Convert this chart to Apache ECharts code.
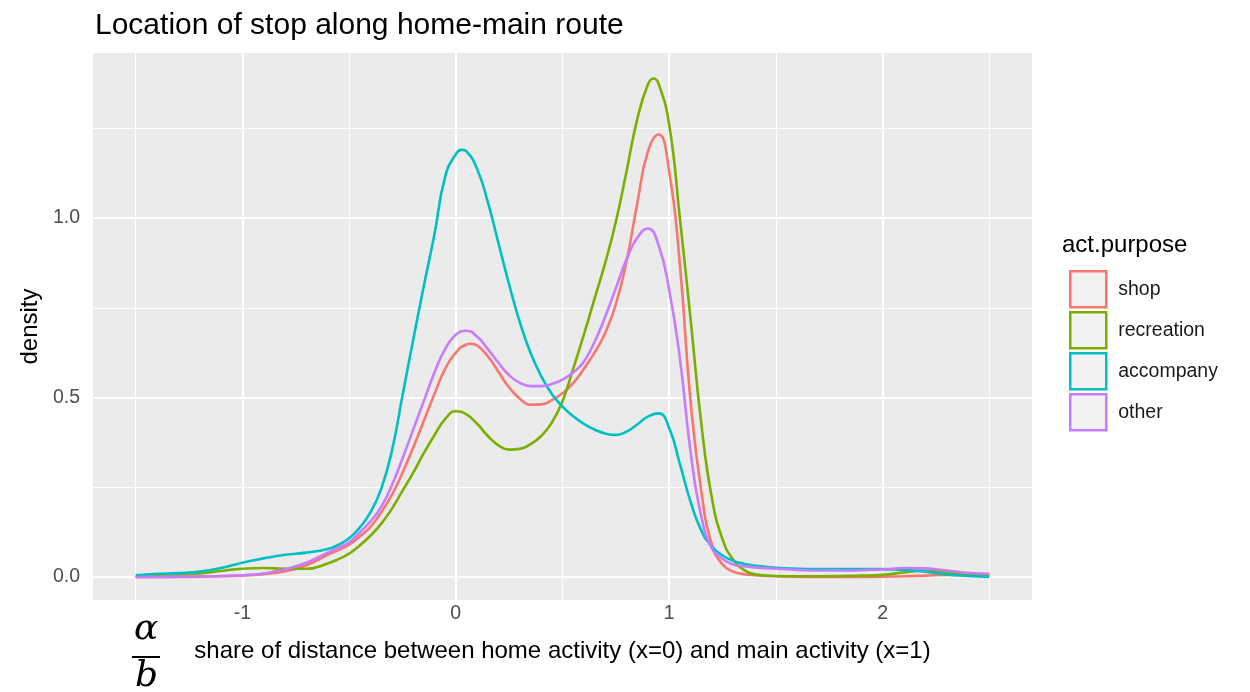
<!DOCTYPE html>
<html>
<head>
<meta charset="utf-8">
<script src="https://cdn.jsdelivr.net/npm/echarts@6/dist/echarts.min.js"></script>
<style>
  html, body { margin: 0; padding: 0; background: #ffffff; }
  #chart { width: 1250px; height: 692px; }
</style>
</head>
<body>
<div id="chart"></div>
<script>
// Positions along the home -> main activity route (share of distance)
const xs = [
  -1.5, -1.4, -1.3, -1.2, -1.1, -1.0, -0.9, -0.8, -0.7, -0.6,
  -0.55, -0.5, -0.45, -0.4, -0.35, -0.3, -0.25, -0.2, -0.15, -0.1,
  -0.05, 0, 0.05, 0.1, 0.15, 0.2, 0.25, 0.3, 0.35, 0.4,
  0.45, 0.5, 0.55, 0.6, 0.65, 0.7, 0.75, 0.8, 0.85, 0.9,
  0.95, 1.0, 1.05, 1.1, 1.15, 1.2, 1.25, 1.3, 1.35, 1.4,
  1.5, 1.6, 1.7, 1.8, 1.9, 2.0, 2.1, 2.2, 2.3, 2.4, 2.5
];

// Kernel density estimates per activity purpose (at xs)
const shop = [
  0.0, 0.0, 0.0, 0.001, 0.002, 0.004, 0.008, 0.016, 0.033, 0.062,
  0.075, 0.09, 0.113, 0.14, 0.18, 0.228, 0.29, 0.36, 0.435, 0.51,
  0.58, 0.625, 0.648, 0.645, 0.615, 0.572, 0.528, 0.497, 0.48, 0.481,
  0.493, 0.512, 0.54, 0.58, 0.625, 0.68, 0.76, 0.88, 1.04, 1.185,
  1.233, 1.13, 0.87, 0.49, 0.24, 0.09, 0.035, 0.015, 0.008, 0.005,
  0.002, 0.001, 0.0, 0.0, 0.0, 0.001, 0.002, 0.004, 0.006, 0.006, 0.005
];
const recreation = [
  0.0, 0.002, 0.005, 0.01, 0.017, 0.023, 0.025, 0.023, 0.023, 0.038,
  0.05, 0.065, 0.088, 0.115, 0.148, 0.19, 0.24, 0.29, 0.345, 0.395,
  0.44, 0.462, 0.453, 0.427, 0.393, 0.367, 0.355, 0.357, 0.37, 0.393,
  0.43, 0.49, 0.58, 0.675, 0.775, 0.875, 0.99, 1.13, 1.275, 1.372,
  1.375, 1.26, 1.0, 0.72, 0.43, 0.22, 0.105, 0.048, 0.02, 0.008,
  0.003, 0.002, 0.002, 0.003, 0.004, 0.006, 0.013, 0.018, 0.013, 0.008, 0.005
];
const accompany = [
  0.005, 0.009, 0.011, 0.015, 0.025, 0.04, 0.052, 0.062, 0.068, 0.078,
  0.09, 0.108, 0.138, 0.18, 0.245, 0.35, 0.505, 0.66, 0.81, 0.955,
  1.115, 1.178, 1.186, 1.137, 1.045, 0.93, 0.815, 0.71, 0.625, 0.56,
  0.51, 0.475, 0.448, 0.427, 0.411, 0.4, 0.396, 0.405, 0.425, 0.447,
  0.456, 0.415, 0.315, 0.21, 0.13, 0.085, 0.06, 0.045, 0.037, 0.032,
  0.026, 0.023, 0.022, 0.022, 0.022, 0.022, 0.02, 0.015, 0.007, 0.003, 0.0
];
const other = [
  0.0, 0.0, 0.001, 0.002, 0.003, 0.005, 0.01, 0.022, 0.04, 0.068,
  0.082, 0.097, 0.124, 0.155, 0.195, 0.255, 0.33, 0.41, 0.49, 0.57,
  0.635, 0.675, 0.686, 0.67, 0.635, 0.597, 0.562, 0.541, 0.532, 0.532,
  0.538, 0.55, 0.57, 0.60, 0.655, 0.725, 0.805, 0.885, 0.945, 0.971,
  0.925, 0.80, 0.61, 0.35, 0.17, 0.08, 0.05, 0.035, 0.03, 0.027,
  0.023, 0.02, 0.018, 0.018, 0.019, 0.021, 0.025, 0.024, 0.018, 0.012, 0.009
];

// Peaks that fall between the sampled positions [x, density]
const shopTurns = [[0.07, 0.65]];
const recreationTurns = [[0.926, 1.389]];
const accompanyTurns = [[0.03, 1.19]];
const otherTurns = [];

const purposes = ['shop', 'recreation', 'accompany', 'other'];
const purposeValues = [shop, recreation, accompany, other];
const purposeTurns = [shopTurns, recreationTurns, accompanyTurns, otherTurns];
const purposeColors = ['#F8766D', '#7CAE00', '#00BFC4', '#C77CFF'];

// Axis breaks
const xMajor = [-1, 0, 1, 2];
const xMinor = [-1.5, -0.5, 0.5, 1.5, 2.5];
const yMajor = [0, 0.5, 1.0];
const yMinor = [0.25, 0.75, 1.25];

const FONT = '"Liberation Sans", Arial, Helvetica, sans-serif';
const MATH_FONT = '"DejaVu Serif", "Liberation Serif", serif';

const gridLines = [];
xMinor.forEach(v => gridLines.push({ xAxis: v, lineStyle: { width: 1.1 } }));
yMinor.forEach(v => gridLines.push({ yAxis: v, lineStyle: { width: 1.1 } }));
xMajor.forEach(v => gridLines.push({ xAxis: v, lineStyle: { width: 2.2 } }));
yMajor.forEach(v => gridLines.push({ yAxis: v, lineStyle: { width: 2.2 } }));

// Sampled points plus in-between peaks, in x order
function densityPoints(values, turns) {
  const pts = xs.map((x, k) => [x, values[k]]).concat(turns);
  pts.sort((a, b) => a[0] - b[0]);
  return pts;
}

const densitySeries = purposes.map((name, i) => ({
  name: name,
  type: 'line',
  data: densityPoints(purposeValues[i], purposeTurns[i]),
  smooth: 0.5,
  showSymbol: false,
  symbol: 'none',
  z: 3 + i,
  lineStyle: { color: purposeColors[i], width: 2.6 },
  itemStyle: { color: purposeColors[i] },
  emphasis: { disabled: true }
}));

const chart = echarts.init(document.getElementById('chart'), null, { renderer: 'canvas' });

chart.setOption({
  animation: false,
  backgroundColor: '#ffffff',
  textStyle: { fontFamily: FONT },
  title: {
    text: 'Location of stop along home-main route',
    left: 90,
    top: 6,
    textStyle: { fontFamily: FONT, fontSize: 30, fontWeight: 'normal', color: '#000000' }
  },
  grid: {
    left: 93, right: 218, top: 53, bottom: 92,
    show: true, backgroundColor: '#EBEBEB', borderWidth: 0
  },
  legend: {
    orient: 'vertical',
    left: 1069,
    top: 270,
    padding: 0,
    itemWidth: 36,
    itemHeight: 36,
    itemGap: 2.5,
    icon: 'rect',
    selectedMode: false,
    textStyle: { fontFamily: FONT, fontSize: 19.5, color: '#1a1a1a', padding: [0, 0, 0, 7] },
    data: purposes.map((name, i) => ({
      name: name,
      icon: 'rect',
      itemStyle: { color: '#F2F2F2', borderColor: purposeColors[i], borderWidth: 2.5 }
    }))
  },
  xAxis: {
    type: 'value',
    min: -1.7,
    max: 2.7,
    axisLine: { show: false },
    splitLine: { show: false },
    axisTick: { show: true, customValues: xMajor, length: 5, lineStyle: { color: '#333333', width: 1.5 } },
    axisLabel: {
      customValues: xMajor,
      formatter: v => String(v),
      margin: 4,
      color: '#4D4D4D',
      fontSize: 19.5,
      fontFamily: FONT
    },
    name: 'share of distance between home activity (x=0) and main activity (x=1)',
    nameLocation: 'middle',
    nameGap: 39,
    nameTextStyle: { fontFamily: FONT, fontSize: 24, color: '#000000' }
  },
  yAxis: {
    type: 'value',
    min: -0.064,
    max: 1.46,
    axisLine: { show: false },
    splitLine: { show: false },
    axisTick: { show: true, customValues: yMajor, length: 5, lineStyle: { color: '#333333', width: 1.5 } },
    axisLabel: {
      customValues: yMajor,
      formatter: v => v.toFixed(1),
      margin: 13,
      color: '#4D4D4D',
      fontSize: 19.5,
      fontFamily: FONT
    },
    name: 'density',
    nameLocation: 'middle',
    nameRotate: 90,
    nameGap: 45,
    nameTextStyle: { fontFamily: FONT, fontSize: 24, color: '#000000' }
  },
  graphic: [
    {
      type: 'text',
      left: 1062,
      top: 233,
      style: { text: 'act.purpose', fontFamily: FONT, fontSize: 24, fill: '#000000' }
    },
    {
      type: 'text',
      left: 134,
      top: 612,
      style: { text: 'α', fontFamily: MATH_FONT, fontStyle: 'italic', fontSize: 36, fill: '#000000' }
    },
    {
      type: 'line',
      shape: { x1: 132, y1: 657, x2: 160, y2: 657 },
      style: { stroke: '#000000', lineWidth: 2 }
    },
    {
      type: 'text',
      left: 135,
      top: 659,
      style: { text: 'b', fontFamily: MATH_FONT, fontStyle: 'italic', fontSize: 36, fill: '#000000' }
    }
  ],
  series: [
    {
      name: 'grid-lines',
      type: 'line',
      data: [],
      z: 1,
      silent: true,
      markLine: {
        z: 1,
        silent: true,
        symbol: ['none', 'none'],
        label: { show: false },
        animation: false,
        emphasis: { disabled: true },
        lineStyle: { color: '#FFFFFF', type: 'solid' },
        data: gridLines
      }
    }
  ].concat(densitySeries)
});
</script>
</body>
</html>
